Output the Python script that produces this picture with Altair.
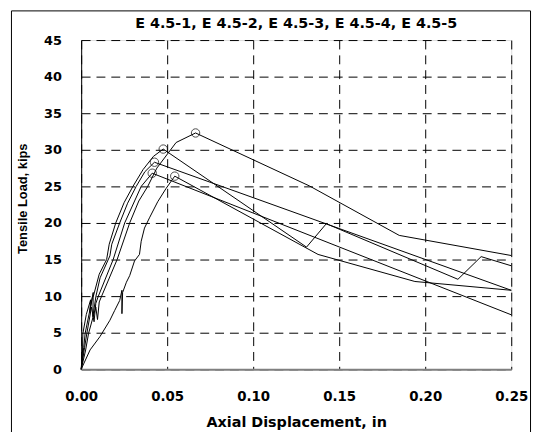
import altair as alt
import pandas as pd

# ---- data (axial displacement in, tensile load kips) ----
series_names = ["E 4.5-1", "E 4.5-2", "E 4.5-3", "E 4.5-4", "E 4.5-5"]

a_x = [0, 0.0025, 0.0043, 0.0085, 0.0095, 0.0105, 0.0119, 0.0209, 0.0282, 0.0335, 0.0387, 0.044, 0.0504, 0.0552, 0.0665,
       0.1328, 0.1849, 0.25]
a_y = [0, 2.5, 4.9, 8.5, 6.8, 9.2, 10.0, 15.0, 20.0, 23.0, 25.0, 27.5, 29.5, 31.0, 32.3,
       25.05, 18.3, 15.55]

b_x = [0, 0.0008, 0.001, 0.003, 0.0055, 0.005, 0.0065, 0.0071, 0.0105, 0.0148, 0.0163, 0.0201, 0.025, 0.0301, 0.036, 0.042, 0.0477,
       0.131, 0.1425, 0.219, 0.2325, 0.25]
b_y = [0, 2.5, 4.9, 7.5, 9.5, 7.8, 9.8, 10.0, 13.0, 15.0, 17.1, 20.0, 22.8, 25.0, 27.3, 29.1, 30.1,
       16.7, 19.9, 12.3, 15.4, 14.15]

c_x = [0, 0.0015, 0.0023, 0.005, 0.007, 0.0068, 0.0086, 0.011, 0.0167, 0.0178, 0.0224, 0.027, 0.032, 0.037, 0.0426,
       0.25]
c_y = [0, 3.0, 4.9, 8.0, 10.5, 7.2, 10.0, 12.5, 15.5, 17.1, 20.0, 22.7, 25.0, 27.0, 28.3,
       10.8]

d_x = [0, 0.002, 0.0033, 0.006, 0.0075, 0.0085, 0.01, 0.0186, 0.0253, 0.0349, 0.0413,
       0.25]
d_y = [0, 3.0, 4.9, 8.5, 6.5, 9.0, 10.0, 15.0, 20.0, 25.0, 26.8,
       7.45]

e_x = [0, 0.0052, 0.0109, 0.0167, 0.0195, 0.0224, 0.0237, 0.0237, 0.0241, 0.0263, 0.0282, 0.031, 0.0339, 0.0349, 0.0368,
       0.0397, 0.0445, 0.0493, 0.0544, 0.1377, 0.194, 0.25]
e_y = [0, 2.65, 4.46, 6.7, 8.05, 9.4, 10.8, 7.6, 10.5, 11.9, 12.8, 14.8, 15.7, 17.5, 19.3,
       20.7, 22.9, 24.7, 26.4, 15.7, 12.0, 10.8]

peak_x = [0.0665, 0.0477, 0.0426, 0.0413, 0.0544]
peak_y = [32.3, 30.1, 28.3, 26.8, 26.4]

x_ticks = [0, 0.05, 0.10, 0.15, 0.20, 0.25]
y_ticks = [0, 5, 10, 15, 20, 25, 30, 35, 40, 45]

title_text = "E 4.5-1, E 4.5-2, E 4.5-3, E 4.5-4, E 4.5-5"

# ---- tables ----
rows = []
for name, xs, ys in zip(series_names, [a_x, b_x, c_x, d_x, e_x], [a_y, b_y, c_y, d_y, e_y]):
    for i, (xv, yv) in enumerate(zip(xs, ys)):
        rows.append({"series": name, "i": i, "x": xv, "y": yv})
curves = pd.DataFrame(rows)
peaks = pd.DataFrame({"series": series_names, "x": peak_x, "y": peak_y})

xscale = alt.Scale(domain=[0, 0.25], nice=False, zero=False)
yscale = alt.Scale(domain=[0, 45], nice=False)

xaxis = alt.Axis(values=x_ticks, format=".2f", title="Axial Displacement, in",
                 labelFont="DejaVu Sans", labelFontSize=13.5, labelFontWeight="bold", labelColor="black",
                 labelPadding=21, labelFlush=False, labelOverlap=False, ticks=False, tickSize=0,
                 domainColor="#808080", domainWidth=2,
                 grid=True, gridColor="black", gridDash=[9, 6], gridWidth=1, gridOpacity=1,
                 titleFont="DejaVu Sans", titleFontSize=14.5, titleFontWeight="bold", titleColor="black",
                 titleY=58.3, titleBaseline="alphabetic", zindex=1)
yaxis = alt.Axis(values=y_ticks, title="Tensile Load, kips",
                 labelFont="DejaVu Sans", labelFontSize=13, labelFontWeight="bold", labelColor="black",
                 labelPadding=20, labelOverlap=False, ticks=False, tickSize=0,
                 domainColor="black", domainWidth=1,
                 grid=True, gridColor="black", gridDash=[9, 6], gridWidth=1, gridOpacity=1,
                 titleFont="Liberation Sans", titleFontSize=13, titleFontWeight="bold", titleColor="black",
                 titleAngle=270, titleX=-55.5, titleY=160, titleAlign="center", titleBaseline="alphabetic")

X = alt.X("x:Q", scale=xscale, axis=xaxis)
Y = alt.Y("y:Q", scale=yscale, axis=yaxis)

lines = alt.Chart(curves).mark_line(color="black", strokeWidth=1).encode(
    x=X, y=Y, detail="series:N", order="i:Q",
)

circles = alt.Chart(peaks).mark_point(shape="circle", size=72, filled=False, color="black", strokeWidth=1).encode(
    x=X, y=Y,
)

frame = alt.Chart(pd.DataFrame({"k": [0]})).mark_rect(fill=None, stroke="black", strokeWidth=1).encode(
    x=alt.value(-70.5), x2=alt.value(454.5), y=alt.value(-29.5), y2=alt.value(420)
)

title = alt.Chart(pd.DataFrame({"t": [title_text]})).mark_text(
    font="DejaVu Sans", fontSize=14.5, fontWeight="bold", color="black", align="center", baseline="alphabetic"
).encode(text="t:N", x=alt.value(217.5), y=alt.value(-12.6))

chart = alt.layer(frame, lines, circles, title).properties(
    width=435,
    height=333,
    autosize=alt.AutoSizeParams(type="none"),
    padding={"left": 74, "top": 30, "right": 21, "bottom": 61},
).configure_view(stroke=None).configure(background="white")

chart.save("out.html", embed_options={"renderer": "svg", "actions": False})
